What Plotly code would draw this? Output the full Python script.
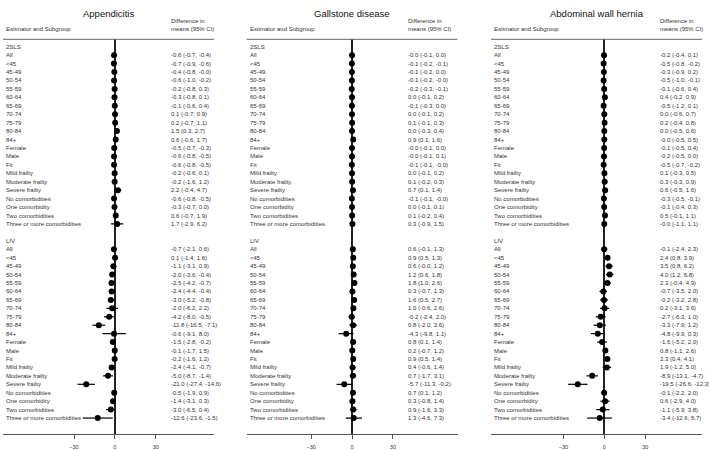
import plotly.graph_objects as go

# ---------------- data ----------------
outcomes = ["Appendicitis", "Gallstone disease", "Abdominal wall hernia"]
estimators = ["2SLS", "LIV"]
subgroups = ["All", "<45", "45-49", "50-54", "55-59", "60-64", "65-69", "70-74",
             "75-79", "80-84", "84+", "Female", "Male", "Fit", "Mild frailty",
             "Moderate frailty", "Severe frailty", "No comorbidities",
             "One comorbidity", "Two comorbidities", "Three or more comorbidities"]
tick_values = [-30, 0, 30]

# Appendicitis
app_2sls_est = [-0.6, -0.7, -0.4, -0.6, -0.2, -0.3, -0.1, 0.1, 0.2, 1.5, 0.6, -0.5, -0.6, -0.6, -0.2, -0.2, 2.2, -0.6, -0.3, 0.6, 1.7]
app_2sls_lo = [-0.7, -0.9, -0.8, -1.0, -0.8, -0.8, -0.6, -0.7, -0.7, 0.3, -0.6, -0.7, -0.8, -0.8, -0.6, -1.6, -0.4, -0.8, -0.7, -0.7, -2.9]
app_2sls_hi = [-0.4, -0.6, -0.0, -0.2, 0.3, 0.1, 0.4, 0.9, 1.1, 2.7, 1.7, -0.3, -0.5, -0.5, 0.1, 1.2, 4.7, -0.5, 0.0, 1.9, 6.2]
app_liv_est = [-0.7, 0.1, -1.1, -2.0, -2.5, -2.4, -3.0, -2.0, -4.2, -11.8, -0.6, -1.5, -0.1, -0.2, -2.4, -5.0, -21.0, -0.5, -1.4, -3.0, -12.6]
app_liv_lo = [-2.1, -1.4, -3.1, -3.6, -4.2, -4.4, -5.2, -6.2, -8.0, -16.5, -9.1, -2.8, -1.7, -1.6, -4.1, -8.7, -27.4, -1.9, -3.1, -6.5, -23.6]
app_liv_hi = [0.6, 1.6, 0.9, -0.4, -0.7, -0.4, -0.8, 2.2, -0.5, -7.1, 8.0, -0.2, 1.5, 1.2, -0.7, -1.4, -14.6, 0.9, 0.3, 0.4, -1.5]

# Gallstone disease
gal_2sls_est = [-0.0, -0.1, -0.1, -0.1, -0.2, 0.0, -0.1, 0.0, 0.1, 0.0, 0.9, -0.0, -0.0, -0.1, 0.0, 0.1, 0.7, -0.1, 0.0, 0.1, 0.3]
gal_2sls_lo = [-0.1, -0.2, -0.2, -0.2, -0.3, -0.1, -0.3, -0.1, -0.1, -0.3, 0.1, -0.1, -0.1, -0.1, -0.1, -0.2, 0.1, -0.1, -0.1, -0.2, -0.9]
gal_2sls_hi = [0.0, -0.1, 0.0, -0.0, -0.1, 0.2, 0.0, 0.2, 0.3, 0.4, 1.6, 0.0, 0.1, -0.0, 0.2, 0.3, 1.4, -0.0, 0.1, 0.4, 1.5]
gal_liv_est = [0.6, 0.9, 0.6, 1.2, 1.8, 0.3, 1.6, 1.0, -0.2, 0.8, -4.3, 0.8, 0.2, 0.9, 0.4, 0.7, -5.7, 0.7, 0.3, 0.9, 1.3]
gal_liv_lo = [-0.1, 0.5, -0.0, 0.6, 1.0, -0.7, 0.5, -0.6, -2.4, -2.0, -9.8, 0.1, -0.7, 0.5, -0.6, -1.7, -11.3, 0.1, -0.8, -1.6, -4.6]
gal_liv_hi = [1.3, 1.3, 1.2, 1.8, 2.6, 1.3, 2.7, 2.6, 2.0, 3.6, 1.1, 1.4, 1.2, 1.4, 1.4, 3.1, -0.2, 1.2, 1.4, 3.3, 7.3]

# Abdominal wall hernia
her_2sls_est = [-0.2, -0.5, -0.3, -0.5, -0.1, 0.4, -0.5, 0.0, 0.2, 0.0, -0.0, -0.1, -0.2, -0.5, 0.1, 0.3, 0.6, -0.3, -0.1, 0.5, -0.0]
her_2sls_lo = [-0.4, -0.8, -0.9, -1.0, -0.6, -0.2, -1.2, -0.6, -0.4, -0.5, -0.5, -0.5, -0.5, -0.7, -0.3, -0.3, -0.5, -0.5, -0.4, -0.1, -1.1]
her_2sls_hi = [0.1, -0.2, 0.2, -0.1, 0.4, 0.9, 0.1, 0.7, 0.8, 0.6, 0.5, 0.4, 0.0, -0.2, 0.5, 0.9, 1.6, -0.1, 0.3, 1.1, 1.1]
her_liv_est = [-0.1, 2.4, 3.5, 4.0, 2.3, -0.7, -0.2, 0.2, -2.7, -3.3, -4.8, -1.6, 0.8, 2.3, 1.9, -8.9, -19.5, -0.1, 0.6, -1.1, -3.4]
her_liv_lo = [-2.4, 0.8, 0.8, 1.2, -0.4, -3.5, -3.2, -3.1, -6.3, -7.9, -9.9, -5.2, -1.1, 0.4, -1.2, -13.1, -26.6, -2.2, -2.9, -5.9, -12.6]
her_liv_hi = [2.3, 3.9, 6.2, 6.8, 4.9, 2.0, 2.8, 3.6, 1.0, 1.2, 0.3, 2.0, 2.6, 4.1, 5.0, -4.7, -12.3, 2.0, 4.0, 3.8, 5.7]

panels = [
    [(app_2sls_est, app_2sls_lo, app_2sls_hi), (app_liv_est, app_liv_lo, app_liv_hi)],
    [(gal_2sls_est, gal_2sls_lo, gal_2sls_hi), (gal_liv_est, gal_liv_lo, gal_liv_hi)],
    [(her_2sls_est, her_2sls_lo, her_2sls_hi), (her_liv_est, her_liv_lo, her_liv_hi)],
]

# ---------------- layout constants (pixels) ----------------
W, H = 709, 450
PX_PER_UNIT = 1.363
panel_px = [(3, 214, 114.9), (246.5, 457.5, 352.0), (491, 702, 604.3)]  # left, right, zero
ROW0_Y, ROW_STEP = 46.7, 8.44
TOP_Y, AXIS_Y = 39.3, 434.0
CI_X = 39.5
FONT = "Liberation Sans, Arial, sans-serif"
TXT = "#333333"


def py(p):
    return 1 - p / H


fig = go.Figure()
annotations = []
shapes = []
layout = {}

for i, (outcome, series) in enumerate(zip(outcomes, panels)):
    n = "" if i == 0 else str(i + 1)
    xa, ya = "x" + n, "y" + n
    left, right, zero = panel_px[i]
    layout["xaxis" + n] = dict(
        domain=[left / W, right / W],
        range=[(left - zero) / PX_PER_UNIT, (right - zero) / PX_PER_UNIT],
        anchor=ya, showgrid=False, zeroline=True, zerolinecolor="#222222",
        zerolinewidth=1.5, showline=True, linecolor="#555555", linewidth=1,
        ticks="outside", ticklen=4, tickcolor="#555555", tickwidth=1,
        tickvals=tick_values, ticklabelstandoff=3,
        tickfont=dict(family=FONT, size=5.5, color=TXT), fixedrange=True,
    )
    layout["yaxis" + n] = dict(
        domain=[py(AXIS_Y), py(TOP_Y)],
        range=[(AXIS_Y - ROW0_Y) / ROW_STEP, (TOP_Y - ROW0_Y) / ROW_STEP],
        anchor=xa, visible=False, fixedrange=True,
    )
    # header line
    shapes.append(dict(type="line", xref=xa + " domain", yref=ya + " domain",
                       x0=0, x1=1, y0=1, y1=1, line=dict(color="#666666", width=1)))
    # title and headers
    annotations.append(dict(text=outcome, xref=xa + " domain", yref="paper",
                            x=0.5, y=py(14), xanchor="center", yanchor="middle",
                            showarrow=False, font=dict(family=FONT, size=9.5, color="#111111")))
    annotations.append(dict(text="Estimator and Subgroup", xref=xa + " domain", yref="paper",
                            x=0.005, y=py(29.3), xanchor="left", yanchor="middle",
                            showarrow=False, font=dict(family=FONT, size=6, color=TXT)))
    annotations.append(dict(text="Difference in", xref=xa, yref="paper",
                            x=CI_X, y=py(20.7), xanchor="left", yanchor="middle",
                            showarrow=False, font=dict(family=FONT, size=6, color=TXT)))
    annotations.append(dict(text="means (95% CI)", xref=xa, yref="paper",
                            x=CI_X, y=py(29.3), xanchor="left", yanchor="middle",
                            showarrow=False, font=dict(family=FONT, size=6, color=TXT)))

    for k, (est_name, (est, lo, hi)) in enumerate(zip(estimators, series)):
        base = k * (len(subgroups) + 2)
        annotations.append(dict(text=est_name, xref=xa + " domain", yref=ya,
                                x=0.005, y=base, xanchor="left", yanchor="middle",
                                showarrow=False, font=dict(family=FONT, size=6, color=TXT)))
        rows = [base + 1 + j for j in range(len(subgroups))]
        fig.add_trace(go.Scatter(
            x=est, y=rows, xaxis=xa, yaxis=ya, mode="markers",
            marker=dict(symbol="circle", size=6, color="black"),
            error_x=dict(type="data", symmetric=False,
                         array=[h - e for e, h in zip(est, hi)],
                         arrayminus=[e - l for e, l in zip(est, lo)],
                         thickness=1.2, width=0, color="black"),
            showlegend=False, hoverinfo="skip",
        ))
        for j, (sg, e, l, h) in enumerate(zip(subgroups, est, lo, hi)):
            annotations.append(dict(text=sg, xref=xa + " domain", yref=ya,
                                    x=0.005, y=rows[j], xanchor="left", yanchor="middle",
                                    showarrow=False, font=dict(family=FONT, size=6, color=TXT)))
            annotations.append(dict(text=f"{e:.1f} ({l:.1f}, {h:.1f})", xref=xa, yref=ya,
                                    x=CI_X, y=rows[j], xanchor="left", yanchor="middle",
                                    showarrow=False, font=dict(family=FONT, size=6, color=TXT)))

fig.update_layout(
    width=W, height=H, margin=dict(l=0, r=0, t=0, b=0),
    paper_bgcolor="white", plot_bgcolor="white",
    annotations=annotations, shapes=shapes, **layout,
)
fig.write_html("out.html", config={"displayModeBar": False},
               post_script="document.body.style.margin='0';document.body.style.overflow='hidden';")
